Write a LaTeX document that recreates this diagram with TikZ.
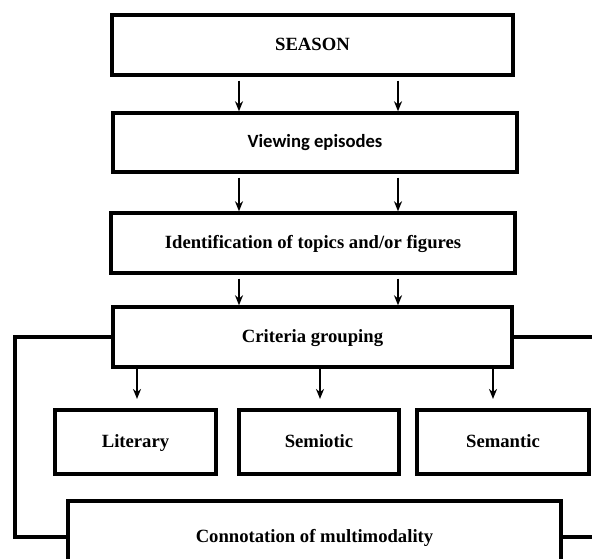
\documentclass[tikz,border=0pt]{standalone}
\usepackage{fontspec}
\setmainfont{Liberation Serif}
\newfontfamily\calibri{Carlito}
\usepackage{tikz}
\usetikzlibrary{arrows.meta}

\begin{document}
\begin{tikzpicture}[x=0.75pt,y=-0.75pt,
		box/.style={draw, line width=2.6pt, inner sep=0pt, align=center, text height=2.2ex, text depth=0.45ex, font=\fontsize{14}{16}\selectfont\bfseries},
		arr/.style={line width=1.3pt, -{Stealth[length=7.5pt,width=6pt]}},
		link/.style={line width=2.6pt}]
				\clip (0,0) rectangle (592,558);
				\useasboundingbox (0,0) rectangle (592,558);
				
				\node[box, minimum width=401*0.75pt, minimum height=60*0.75pt] (season) at (312.5,45) {SEASON};
				\node[box, minimum width=404*0.75pt, minimum height=59*0.75pt, font=\fontsize{14}{16}\selectfont\calibri\bfseries] (view) at (315,142.5) {Viewing episodes};
				\node[box, minimum width=404*0.75pt, minimum height=60*0.75pt] (ident) at (313,243) {Identification of topics and/or figures};
				\node[box, minimum width=399*0.75pt, minimum height=60*0.75pt] (crit) at (312.5,337) {Criteria grouping};
				
				\node[box, minimum width=161*0.75pt, minimum height=64*0.75pt] (lit) at (135.5,442) {Literary};
				\node[box, minimum width=160*0.75pt, minimum height=64*0.75pt] (semio) at (319,442) {Semiotic};
				\node[box, minimum width=172*0.75pt, minimum height=64*0.75pt] (seman) at (503,442) {Semantic};
				
				\node[box, minimum width=493*0.75pt, minimum height=72*0.75pt] (conn) at (314.5,537) {Connotation of multimodality};
				
				\coordinate (colL) at (239,0);
				\coordinate (colR) at (398,0);
				\coordinate (colA) at (137,0);
				\coordinate (colB) at (320,0);
				\coordinate (colC) at (493,0);
				\coordinate (leftrail) at (15,0);
				\coordinate (rightedge) at (600,0);
				
				\foreach \c in {colL,colR} {
					\draw[arr, shorten <=3pt] (season.south -| \c) -- (view.north -| \c);
					\draw[arr, shorten <=3pt] (view.south -| \c) -- (ident.north -| \c);
					\draw[arr, shorten <=3pt] (ident.south -| \c) -- (crit.north -| \c);
				}
				
				\draw[arr, shorten >=7pt] (crit.south -| colA) -- (lit.north -| colA);
				\draw[arr, shorten >=7pt] (crit.south -| colB) -- (semio.north -| colB);
				\draw[arr, shorten >=7pt] (crit.south -| colC) -- (seman.north -| colC);
				
				\draw[link] (crit.west) -- (crit.west -| leftrail) -- (conn.west -| leftrail) -- (conn.west);
				\draw[link] (crit.east) -- (crit.east -| rightedge);
				\draw[link] (conn.east) -- (conn.east -| rightedge);
			\end{tikzpicture}
\end{document}
